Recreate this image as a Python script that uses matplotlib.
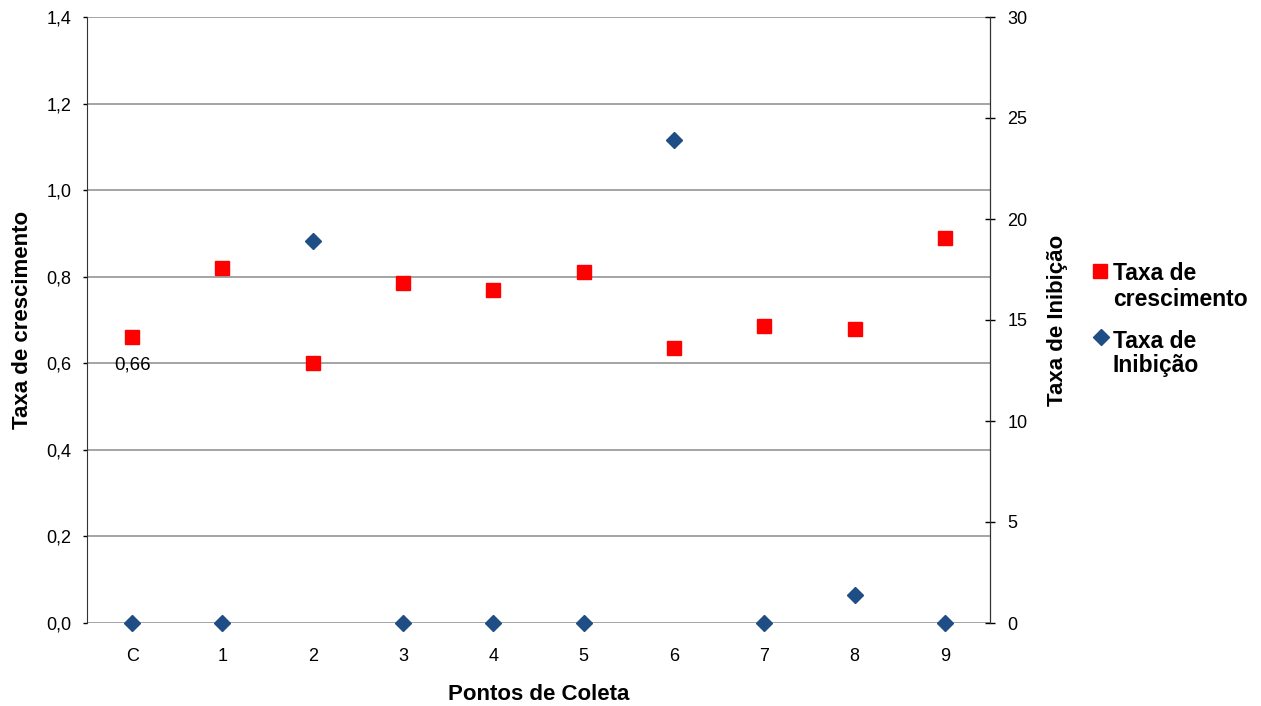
import matplotlib.pyplot as plt
from matplotlib.lines import Line2D
from matplotlib.ticker import MultipleLocator, FuncFormatter

plt.rcParams['font.family'] = ['Liberation Sans', 'DejaVu Sans']

pontos = ['C', '1', '2', '3', '4', '5', '6', '7', '8', '9']
crescimento = [0.66, 0.82, 0.60, 0.785, 0.77, 0.81, 0.635, 0.685, 0.68, 0.89]
inibicao = [0, 0, 18.9, 0, 0, 0, 23.9, 0, 1.4, 0]

vermelho = '#FF0000'
azul = '#1F4E86'
cinza = '#8C8C8C'

W, H = 1261, 706
fig = plt.figure(figsize=(W / 100, H / 100), dpi=100)
ax = fig.add_axes([87 / W, (H - 623) / H, 903 / W, 606 / H])
ax2 = ax.twinx()

x = list(range(len(pontos)))

# eixo da esquerda: taxa de crescimento
ax.set_xlim(-0.5, len(pontos) - 0.5)
ax.set_ylim(0, 1.4)
ax.yaxis.set_major_locator(MultipleLocator(0.2))
ax.yaxis.set_major_formatter(FuncFormatter(lambda v, p: f'{v:.1f}'.replace('.', ',')))
ax.grid(axis='y', color=cinza, linewidth=1.1)
ax.set_axisbelow(True)
ax.set_xticks(x)
ax.set_xticklabels(pontos)
ax.tick_params(axis='x', length=0, pad=18, labelsize=13)
ax.tick_params(axis='y', direction='out', length=3, width=1, labelsize=13, pad=8)
for s in ['top', 'bottom']:
    ax.spines[s].set_visible(False)
ax.spines['left'].set_color('#333333')
ax.plot(x, crescimento, linestyle='none', marker='s', markersize=9.6,
        color=vermelho, zorder=3, clip_on=False)
ax.annotate('0,66', (x[0], crescimento[0]), xytext=(0, -20),
            textcoords='offset points', ha='center', va='center', fontsize=13.5)
ax.set_xlabel('Pontos de Coleta', fontsize=16, fontweight='bold', labelpad=14)
ax.set_ylabel('Taxa de crescimento', fontsize=16, fontweight='bold', labelpad=10)

# eixo da direita: taxa de inibição
ax2.set_ylim(0, 30)
ax2.yaxis.set_major_locator(MultipleLocator(5))
ax2.tick_params(axis='y', direction='inout', length=7, width=1, labelsize=13, pad=9)
for s in ['top', 'bottom', 'left']:
    ax2.spines[s].set_visible(False)
ax2.spines['right'].set_color('#333333')
ax2.plot(x, inibicao, linestyle='none', marker='D', markersize=7.8,
         color=azul, zorder=3, clip_on=False)
ax2.set_ylabel('Taxa de Inibição', fontsize=16, fontweight='bold', labelpad=14)

# legenda
def px(xp, yp):
    return xp / W, 1 - yp / H

fig.add_artist(Line2D([px(1100, 271)[0]], [px(1100, 271)[1]], marker='s',
                      markersize=9.6, color=vermelho, linestyle='none'))
fig.add_artist(Line2D([px(1101, 337)[0]], [px(1101, 337)[1]], marker='D',
                      markersize=7.8, color=azul, linestyle='none'))
for texto, yb in [('Taxa de', 280), ('crescimento', 306), ('Taxa de', 348), ('Inibição', 372)]:
    fig.text(*px(1113, yb), texto, fontsize=16.5, fontweight='bold', va='baseline', ha='left')

fig.savefig('out.png', dpi=100)
